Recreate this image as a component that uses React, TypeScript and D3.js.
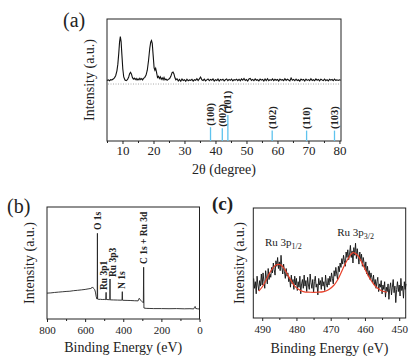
import { useRef, useEffect } from "react";
import * as d3 from "d3";

// ---- panel (a): XRD ----
// peak region, [2theta, intensity]
const xrdPeaks: [number, number][] = [
  [5.0, 49.6], [5.4, 50.1], [5.8, 49.4], [6.2, 50.3], [6.6, 50.0], [7.0, 50.8], [7.4, 51.8], [7.8, 53.5],
  [8.2, 57.5], [8.5, 63], [8.8, 72], [9.05, 81], [9.3, 85.5], [9.55, 81.5], [9.8, 71], [10.1, 59],
  [10.4, 52.5], [10.8, 50], [11.2, 49.5], [11.6, 50.2], [12.0, 52.5], [12.3, 55.2], [12.6, 56.3], [12.9, 54.8],
  [13.2, 52], [13.5, 50.8], [13.8, 51.6], [14.1, 50.3], [14.4, 51.3], [14.7, 50], [15.0, 51], [15.3, 50.2],
  [15.6, 51.5], [15.9, 50.4], [16.2, 51.2], [16.5, 50.1], [16.8, 51.4], [17.2, 52.2], [17.6, 54], [18.0, 58],
  [18.4, 66], [18.8, 76], [19.1, 81], [19.35, 82.3], [19.6, 80], [19.9, 70], [20.2, 60], [20.45, 58],
  [20.7, 59.5], [21.0, 56], [21.3, 52], [21.6, 53], [21.9, 51.2], [22.2, 52.6], [22.5, 50.6], [22.8, 51.8],
  [23.1, 50.2], [23.4, 52], [23.7, 50.1], [24.0, 50.8], [24.4, 49.8], [24.8, 50.5], [25.2, 51.2], [25.6, 53],
  [26.0, 56], [26.3, 56.5], [26.6, 55], [26.9, 52], [27.2, 50.2], [27.6, 51],
];
// flat noisy tail, sampled every 0.4 deg from 28
const xrdTailStart = 28;
const xrdTailStep = 0.4;
const xrdTail = [
  49.2, 50.4, 49.0, 50.8, 49.6, 50.2, 48.9, 50.6, 49.4, 50.1,
  49.7, 50.5, 49.1, 50.3, 49.8, 51.0, 49.5, 50.9, 52.4, 50.2,
  49.6, 50.7, 49.3, 50.1, 50.8, 49.4, 50.5, 49.8, 50.9, 49.2,
  50.3, 49.6, 50.8, 49.1, 50.4, 49.9, 50.6, 49.3, 50.2, 50.9,
  49.4, 50.5, 49.7, 50.8, 49.2, 50.3, 49.9, 50.7, 49.5, 50.6,
  49.3, 50.9, 49.8, 51.2, 49.6, 50.4, 49.1, 50.8, 51.3, 49.7,
  50.5, 49.4, 50.9, 49.8, 50.2, 49.3, 50.7, 49.9, 50.4, 49.2,
  50.8, 49.6, 51.0, 49.4, 50.3, 49.7, 50.9, 49.5, 50.6, 49.8,
  50.4, 49.2, 50.7, 49.9, 50.3, 49.5, 51.1, 49.7, 50.6, 50.0,
  49.3, 51.6, 49.8, 50.5, 49.4, 50.8, 49.6, 50.2, 49.1, 50.7,
  49.9, 50.4, 49.2, 50.8, 49.7, 50.3, 49.5, 51.0, 49.6, 50.2,
  49.4, 50.9, 49.8, 50.5, 49.3, 50.7, 50.0, 49.6, 50.8, 49.5,
  50.3, 49.2, 50.6, 49.9, 50.4, 49.4, 50.8, 49.7, 50.1, 49.6,
  50.2, 49.8,
];
const xrdRefLevel = 46.7;
const stickPos = [38.4, 42.2, 44.0, 58.3, 69.4, 78.4];
const stickInt = [53, 49, 100, 40, 40, 40];
const stickHkl = ["(100)", "(002)", "(101)", "(102)", "(110)", "(103)"];
const xrdMajor = [10, 20, 30, 40, 50, 60, 70, 80];
const xrdMinor = [5, 15, 25, 35, 45, 55, 65, 75];

// ---- panel (b): XPS survey, [eV, intensity] ----
const survey: [number, number][] = [
  [800, 23.1], [780, 23.3], [760, 23.7], [740, 24.0], [720, 24.3], [700, 24.6], [680, 24.8], [660, 25.3],
  [640, 25.6], [620, 26.0], [600, 26.4], [580, 27.0], [570, 27.3], [564, 28.0], [561, 28.6], [558, 27.6],
  [555, 27.2], [550, 26.4], [546, 24], [542, 20], [538, 17.8], [536.5, 17.9], [535.5, 76.5], [534.5, 17.8],
  [528, 17.5], [520, 17.6], [510, 17.4], [500, 17.5], [492, 17.3], [490, 23.8], [488.5, 17.4], [480, 17.3],
  [472, 17.2], [470.5, 17.3], [469.5, 35.7], [468.5, 17.1], [450, 17.0], [430, 16.9], [410, 16.8], [406.5, 16.9],
  [405, 24.4], [403.5, 16.7], [380, 16.6], [360, 16.5], [340, 16.3], [322, 16.2], [316, 18.5], [312, 17.3],
  [304, 16.0], [298, 15.2], [294.5, 14.5], [293, 46.2], [291.5, 9.8], [280, 9.5], [260, 9.4], [240, 9.3],
  [200, 9.3], [160, 9.2], [120, 9.3], [80, 9.1], [50, 9.2], [30, 9.0], [26, 10.5], [23, 11.2],
  [20, 9.4], [10, 9.1], [0, 8.9],
];
const surveyLabels = ["O 1s", "Ru 3p1", "Ru 3p3", "N 1s", "C 1s + Ru 3d"];
const surveyLabelE = [533, 501, 456, 404, 291];
const surveyLabelI = [79.5, 25.9, 37.5, 26.8, 49.1];
const surveyMajor = [800, 600, 400, 200, 0];
const surveyMinor = [700, 500, 300, 100];

// ---- panel (c): Ru 3p high resolution ----
const ru3pStart = 492.5;
const ru3pStep = 0.25;
const ru3pRaw = [
  36, 27, 33, 22, 38, 30, 25, 34, 29, 40,
  30, 41, 33, 27, 43, 36, 31, 45, 35, 40,
  37, 46, 41, 50, 44, 39, 52, 47, 55, 45,
  51, 43, 57, 46, 40, 49, 42, 36, 45, 38,
  41, 33, 37, 28, 39, 31, 35, 26, 38, 30,
  36, 25, 33, 28, 38, 22, 31, 35, 27, 39,
  29, 34, 24, 37, 30, 26, 40, 32, 27, 35,
  23, 33, 38, 28, 31, 21, 36, 30, 34, 26,
  37, 29, 33, 25, 39, 31, 28, 36, 30, 38,
  33, 41, 36, 31, 43, 38, 46, 40, 35, 47,
  42, 50, 46, 54, 49, 57, 52, 47, 60, 55,
  62, 53, 58, 66, 55, 61, 50, 64, 57, 68,
  54, 63, 56, 49, 60, 52, 58, 47, 55, 50,
  44, 51, 40, 47, 38, 43, 35, 41, 37, 32,
  39, 30, 35, 27, 33, 37, 24, 31, 28, 34,
  22, 30, 26, 33, 19, 28, 24, 31, 17, 27,
  32, 21, 28, 35, 23, 29, 14, 26, 33, 24,
  30, 20, 36, 25, 29, 18, 33, 26, 31,
];
const ru3pFitE = [491, 490, 489, 488, 487, 486, 485.2, 484.5, 483.5, 482.5, 481.5, 480.5, 479.5, 478, 476, 474,
  472, 470.5, 469, 468, 467, 466, 465, 464, 463.5, 463, 462, 461, 460, 459, 458, 457, 456, 455, 453.6];
const ru3pFitI = [24.5, 28.2, 33.6, 40, 45, 48.2, 48.8, 48.2, 44.5, 39, 33.6, 29, 26.4, 24, 23.4, 23.4,
  24, 26, 30, 34.5, 41, 47.7, 53.6, 58.2, 59.5, 59, 56.4, 51, 44.5, 38.2, 33.2, 29, 26.4, 24.5, 23.4];
const ru3pMajor = [490, 480, 470, 460, 450];
const ru3pMinor = [485, 475, 465, 455];

const FONT = "Liberation Serif, Times New Roman, serif";
const INK = "#222";

function frame(svg, x, y, box, major, minor, fontSize, pad, xTitle, xTitleY, yTitleX) {
  const g = svg.append("g");
  g.append("rect")
    .attr("x", box.left).attr("y", box.top)
    .attr("width", box.right - box.left).attr("height", box.bottom - box.top)
    .attr("fill", "none").attr("stroke", INK).attr("stroke-width", 1);

  const ax = g.append("g")
    .attr("transform", `translate(0,${box.bottom})`)
    .call(d3.axisBottom(x).tickValues(major).tickSize(3).tickPadding(pad).tickFormat(d3.format("d")));
  ax.select(".domain").remove();
  ax.attr("font-family", null).attr("font-size", null)
    .style("font-family", FONT).style("font-size", fontSize + "px");
  ax.selectAll("line").attr("stroke", INK);
  ax.selectAll("text").attr("fill", INK);

  const mi = g.append("g")
    .attr("transform", `translate(0,${box.bottom})`)
    .call(d3.axisBottom(x).tickValues(minor).tickSize(2).tickFormat(() => ""));
  mi.select(".domain").remove();
  mi.selectAll("line").attr("stroke", INK);

  g.append("text")
    .attr("x", (box.left + box.right) / 2).attr("y", xTitleY)
    .attr("text-anchor", "middle").style("font-family", FONT).style("font-size", "14px").attr("fill", INK)
    .text(xTitle);
  g.append("text")
    .attr("transform", `translate(${yTitleX},${(box.top + box.bottom) / 2}) rotate(-90)`)
    .attr("text-anchor", "middle").style("font-family", FONT).style("font-size", "14px").attr("fill", INK)
    .text("Intensity (a.u.)");
  return g;
}

function App() {
  const ref = useRef(null);

  useEffect(() => {
    const svg = d3.select(ref.current);
    svg.selectAll("*").remove();

    // ---------- (a) ----------
    const boxA = { left: 107, right: 341, top: 19, bottom: 141 };
    const xA = d3.scaleLinear().domain([5, 80.5]).range([boxA.left, boxA.right]);
    const yA = d3.scaleLinear().domain([0, 100]).range([boxA.bottom, boxA.top]);
    const yS = d3.scaleLinear().domain([0, 100]).range([boxA.bottom, 115]);
    frame(svg, xA, yA, boxA, xrdMajor, xrdMinor, 13, 1.8, "2θ (degree)", 174, 94);

    const xrdAll = xrdPeaks.concat(xrdTail.map((v, i) => [xrdTailStart + i * xrdTailStep, v]));
    svg.append("line")
      .attr("x1", boxA.left + 1).attr("x2", boxA.right - 1)
      .attr("y1", yA(xrdRefLevel)).attr("y2", yA(xrdRefLevel))
      .attr("stroke", "#aaa").attr("stroke-width", 1).attr("stroke-dasharray", "1,1.5");
    svg.append("path")
      .datum(xrdAll)
      .attr("d", d3.line().x(d => xA(d[0])).y(d => yA(d[1])))
      .attr("fill", "none").attr("stroke", "#111").attr("stroke-width", 1.1);

    const sticks = svg.append("g");
    stickPos.forEach((p, i) => {
      sticks.append("line")
        .attr("x1", xA(p)).attr("x2", xA(p))
        .attr("y1", yS(0)).attr("y2", yS(stickInt[i]))
        .attr("stroke", "#5ec3ee").attr("stroke-width", 1.3);
      sticks.append("text")
        .attr("transform", `translate(${xA(p)},${yS(stickInt[i]) - 1.5}) rotate(-90)`)
        .attr("dominant-baseline", "central")
        .style("font-family", FONT).style("font-size", "10.5px").style("font-weight", "bold").attr("fill", INK)
        .text(stickHkl[i]);
    });

    svg.append("text").attr("x", 63).attr("y", 27)
      .style("font-family", FONT).style("font-size", "20px").attr("fill", INK).text("(a)");

    // ---------- (b) ----------
    const boxB = { left: 47, right: 199.5, top: 207, bottom: 319 };
    const xB = d3.scaleLinear().domain([800, 0]).range([boxB.left, boxB.right]);
    const yB = d3.scaleLinear().domain([0, 100]).range([boxB.bottom, boxB.top]);
    frame(svg, xB, yB, boxB, surveyMajor, surveyMinor, 11, 3.7, "Binding Energy (eV)", 352, 34);

    svg.append("path")
      .datum(survey)
      .attr("d", d3.line().x(d => xB(d[0])).y(d => yB(d[1])))
      .attr("fill", "none").attr("stroke", "#222").attr("stroke-width", 0.9);

    surveyLabels.forEach((t, i) => {
      svg.append("text")
        .attr("transform", `translate(${xB(surveyLabelE[i])},${yB(surveyLabelI[i])}) rotate(-90)`)
        .attr("dominant-baseline", "central")
        .style("font-family", FONT).style("font-size", "9.5px").style("font-weight", "bold").attr("fill", INK)
        .text(t);
    });

    svg.append("text").attr("x", 7).attr("y", 213)
      .style("font-family", FONT).style("font-size", "20px").attr("fill", INK).text("(b)");

    // ---------- (c) ----------
    const boxC = { left: 253.3, right: 405.7, top: 208, bottom: 318 };
    const xC = d3.scaleLinear().domain([492.6, 448.1]).range([boxC.left, boxC.right]);
    const yC = d3.scaleLinear().domain([0, 100]).range([boxC.bottom, boxC.top]);
    frame(svg, xC, yC, boxC, ru3pMajor, ru3pMinor, 11, 4.2, "Binding Energy (eV)", 353, 244);

    const raw = ru3pRaw.map((v, i) => [ru3pStart - i * ru3pStep, v]);
    svg.append("path")
      .datum(raw)
      .attr("d", d3.line().x(d => xC(d[0])).y(d => yC(d[1])))
      .attr("fill", "none").attr("stroke", "#111").attr("stroke-width", 0.9);

    const fit = ru3pFitE.map((e, i) => [e, ru3pFitI[i]]);
    svg.append("path")
      .datum(fit)
      .attr("d", d3.line().curve(d3.curveCatmullRom).x(d => xC(d[0])).y(d => yC(d[1])))
      .attr("fill", "none").attr("stroke", "#e8402a").attr("stroke-width", 1.2);

    const lab = [
      { e: 489.2, v: 65.5, sub: "1/2" },
      { e: 468.1, v: 74.5, sub: "3/2" },
    ];
    lab.forEach(l => {
      const t = svg.append("text")
        .attr("x", xC(l.e)).attr("y", yC(l.v))
        .style("font-family", FONT).style("font-size", "11px").attr("fill", INK);
      t.append("tspan").text("Ru 3p");
      t.append("tspan").attr("dy", 3).style("font-size", "8px").text(l.sub);
    });

    svg.append("text").attr("x", 212).attr("y", 210)
      .style("font-family", FONT).style("font-size", "19px").style("font-weight", "bold").attr("fill", INK).text("(c)");
  }, []);

  return (
    <svg
      ref={ref}
      width="415"
      height="362"
      style={{ position: "absolute", left: 0, top: 0, background: "#fff" }}
    />
  );
}

export default App;
